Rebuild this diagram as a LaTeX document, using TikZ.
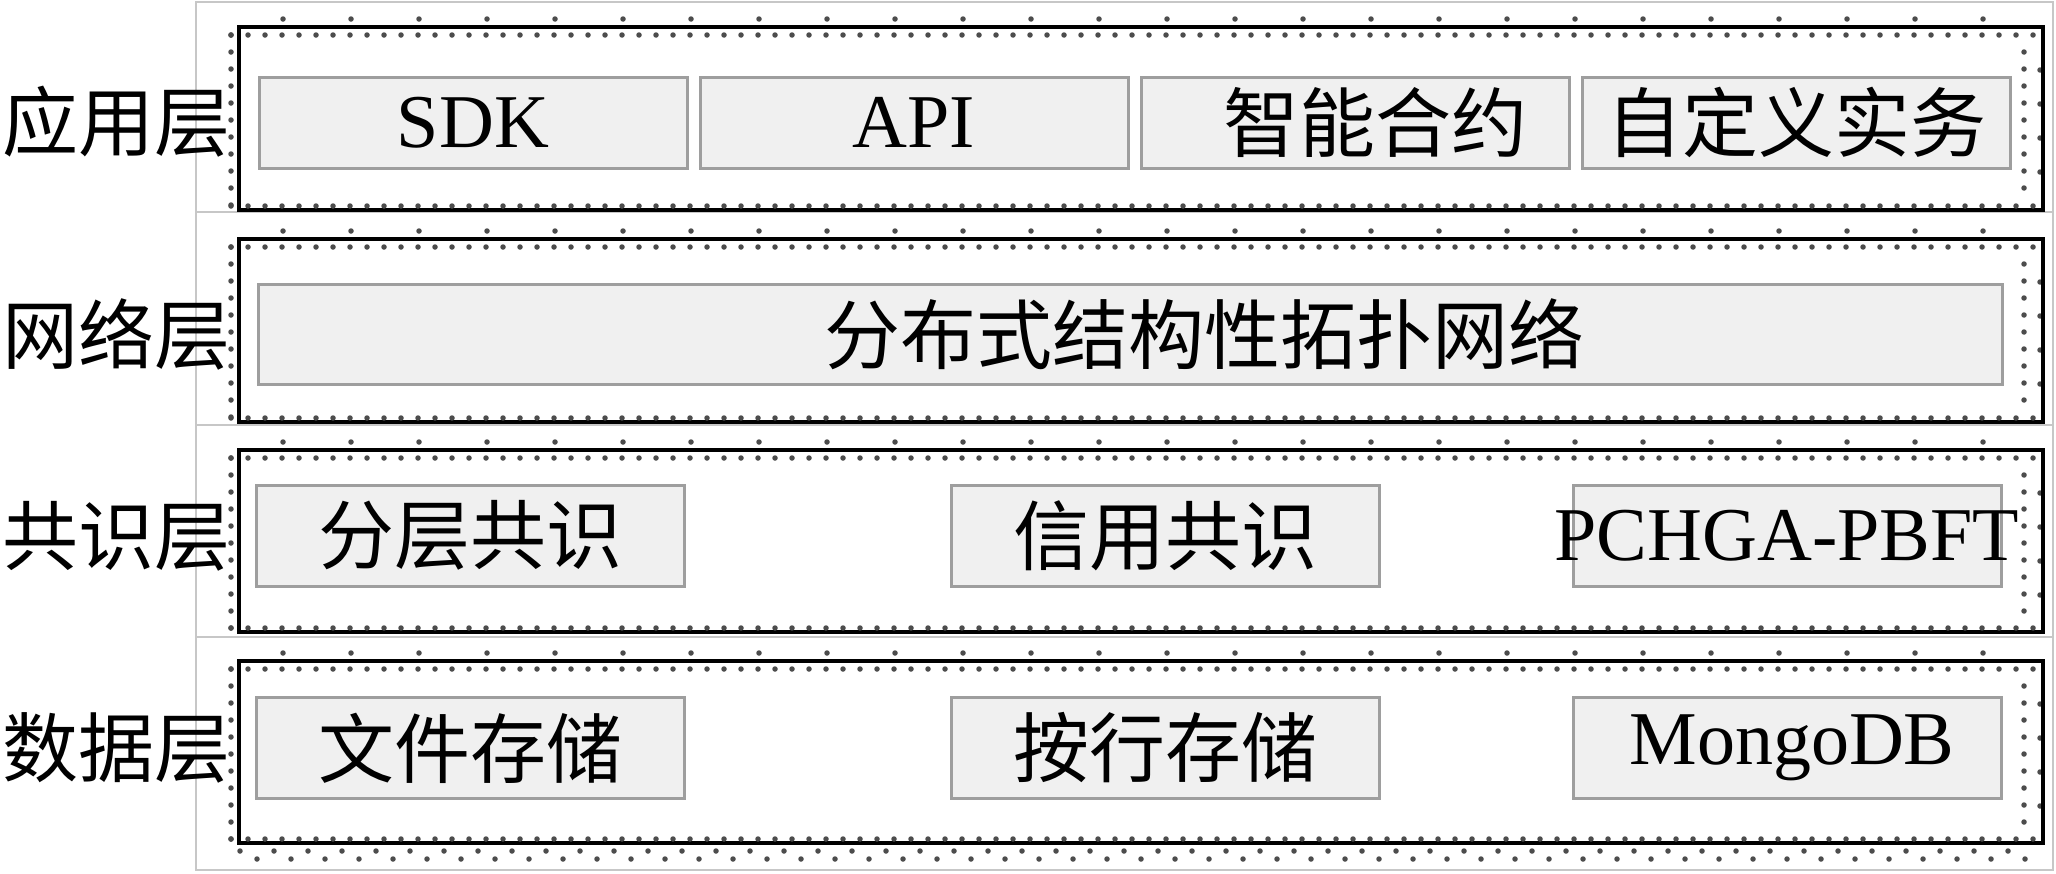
\documentclass[tikz,border=0pt]{standalone}
\usepackage{fontspec}
\setmainfont{Liberation Serif}
\newfontfamily\cjk{Noto Sans CJK SC}
\usetikzlibrary{positioning}

\begin{document}
\begin{tikzpicture}[x=1pt, y=-1pt,
		cell/.style={draw=black!22, line width=2pt},
		band/.style={draw=black, line width=4pt},
		dotrow/.style={draw=black!70, line width=5.5pt, line cap=round, dash pattern=on 0pt off 17pt},
		sparse/.style={dotrow, dash pattern=on 0pt off 68pt},
		item/.style={draw=black!38, fill=black!6, line width=3pt, minimum width=428pt, minimum height=101pt, inner sep=0pt, font=\fontsize{76}{80}\selectfont},
		cjkitem/.style={item, font=\cjk\fontsize{76}{80}\selectfont},
		layername/.style={inner sep=0pt, font=\cjk\fontsize{76}{80}\selectfont}]
	\useasboundingbox (0,0) rectangle (2056,873);

	% outer table
	\draw[cell] (196,2) rectangle (2053,870);
	\foreach \y in {212, 425, 637}
		\draw[cell] (196,\y) -- (2053,\y);

	% layer frames with dotted edges
	\foreach \t/\b in {27/210, 239/422, 450/632, 661/843} {
		\draw[sparse] (283,\t-8) -- (2000,\t-8);
		\draw[dotrow] (231,\t+8) -- (2042,\t+8);
		\draw[dotrow] (231,\t+8) -- (231,\b-4);
		\draw[dotrow] (2024,\t+25) -- (2024,\b-20);
		\draw[dotrow, dash pattern=on 0pt off 34pt] (2040,\t+43) -- (2040,\b-30);
		\draw[band] (239,\t) rectangle (2043,\b);
		\draw[dotrow] (231,\b-4) -- (2042,\b-4);
	}
	\draw[dotrow, dash pattern=on 0pt off 34pt] (240,851) -- (2040,851);
	\draw[dotrow, dash pattern=on 0pt off 34pt] (257,859) -- (2040,859);

	% layer names
	\node[layername] (app) at (116,122) {应用层};
	\node[layername] (net) at (116,334) {网络层};
	\node[layername] (cons) at (116,536) {共识层};
	\node[layername] (data) at (116,748) {数据层};

	% application layer
	\node[item, minimum height=91pt] (sdk) at (473,122.5) {SDK};
	\node[item, minimum height=91pt, right=10pt of sdk] (api) {API};
	\node[cjkitem, minimum height=91pt, right=10pt of api] (contract) {\hspace{40pt}智能合约};
	\node[cjkitem, minimum height=91pt, right=10pt of contract] (txn) {自定义实务};

	% network layer
	\node[item, minimum width=1744pt, minimum height=100pt] (topo) at (1130,334) {};
	\node[layername] (topotext) at (1204,334) {分布式结构性拓扑网络};

	% consensus layer
	\node[cjkitem] (hier) at (470,535.5) {分层共识};
	\node[cjkitem] (credit) at (1165,535.5) {信用共识};
	\node[item] (pbft) at (1787,535.5) {};
	\node[inner sep=0pt, font=\fontsize{76}{80}\selectfont] (pbfttext) at (pbft) {PCHGA-PBFT};

	% data layer
	\node[cjkitem] (file) at (470,748) {文件存储};
	\node[cjkitem] (rowstore) at (1165,748) {按行存储};
	\node[item] (mongo) at (1787,748) {\hspace{10pt}MongoDB};
\end{tikzpicture}
\end{document}
